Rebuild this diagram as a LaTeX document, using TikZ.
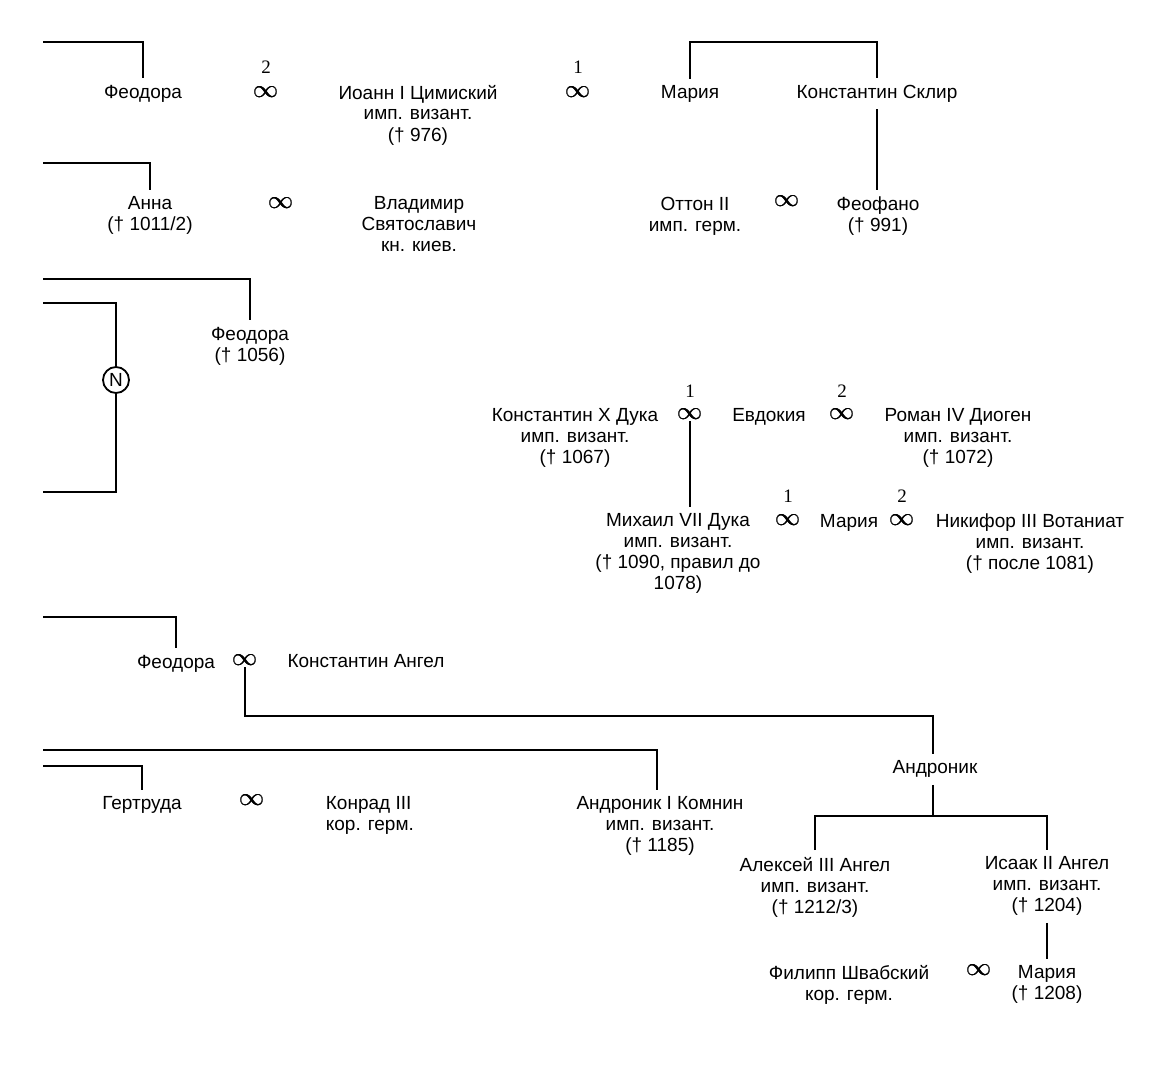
\documentclass[tikz,border=0pt]{standalone}
\usepackage{amsmath}
\usepackage{fontspec}
\setmainfont{Liberation Sans}
\newfontfamily\numfont{Liberation Serif}

\begin{document}
\begin{tikzpicture}[x=1pt,y=-1pt,font=\fontsize{19}{21}\selectfont,line width=1.8pt,
person/.style={align=center,anchor=north,inner xsep=2pt,inner ysep=6pt},
wed/.style={font=\fontsize{25}{25}\selectfont,inner sep=0.5pt},
num/.style={font=\numfont\fontsize{19}{19}\selectfont,inner sep=0.5pt}]
  \useasboundingbox (0,0) rectangle (1168,1086);
  % generation of Tzimiskes and Skleros
  \node[person] (feodoraA) at (143,78) {Феодора};
  \node[num] (numA) at (266,67) {2};
  \node[wed] (mA) at (266,92) {\pmb{$\infty$}};
  \node[person] (tzimiskes) at (418,78) {Иоанн I Цимиский\\имп. визант.\\(† 976)};
  \node[num] (numB) at (578,67) {1};
  \node[wed] (mB) at (578,92) {\pmb{$\infty$}};
  \node[person] (mariaA) at (690,79) {Мария};
  \node[person] (skleros) at (877,78) {Константин Склир};
  \node[person] (anna) at (150,190) {Анна\\(† 1011/2)};
  \node[wed] (mC) at (281,203) {\pmb{$\infty$}};
  \node[person] (vladimir) at (419,190) {Владимир\\Святославич\\кн. киев.};
  \node[person] (otto) at (695,190) {Оттон II\\имп. герм.};
  \node[wed] (mD) at (787,201) {\pmb{$\infty$}};
  \node[person] (theophano) at (878,190) {Феофано\\(† 991)};
  \node[person] (feodoraB) at (250,320) {Феодора\\(† 1056)};
  \node[circle,draw,inner sep=1.5pt,minimum size=26pt] (n) at (116,380) {N};
  % Ducas
  \node[person] (ducas) at (575,402) {Константин X Дука\\имп. визант.\\(† 1067)};
  \node[num] (numE) at (690,391) {1};
  \node[wed] (mE) at (690,414) {\pmb{$\infty$}};
  \node[person] (eudokia) at (769,402) {Евдокия};
  \node[num] (numF) at (842,391) {2};
  \node[wed] (mF) at (842,414) {\pmb{$\infty$}};
  \node[person] (romanus) at (958,402) {Роман IV Диоген\\имп. визант.\\(† 1072)};
  \node[person] (michael) at (678,507) {Михаил VII Дука\\имп. визант.\\(† 1090, правил до\\1078)};
  \node[num] (numG) at (788,496) {1};
  \node[wed] (mG) at (788,520) {\pmb{$\infty$}};
  \node[person] (mariaB) at (849,508) {Мария};
  \node[num] (numH) at (902,496) {2};
  \node[wed] (mH) at (902,520) {\pmb{$\infty$}};
  \node[person] (botaneiates) at (1030,507) {Никифор III Вотаниат\\имп. визант.\\(† после 1081)};
  % Angeloi
  \node[person] (feodoraC) at (176,648) {Феодора};
  \node[wed] (mI) at (245,660) {\pmb{$\infty$}};
  \node[person] (angelos) at (366,648) {Константин Ангел};
  \node[person] (andronikos) at (935,754) {Андроник};
  \node[person] (gertrude) at (142,790) {Гертруда};
  \node[wed] (mJ) at (252,800) {\pmb{$\infty$}};
  \node[person,align=left,anchor=north west] (conrad) at (323,790) {Конрад III\\кор. герм.};
  \node[person] (komnenos) at (660,790) {Андроник I Комнин\\имп. визант.\\(† 1185)};
  \node[person] (alexios) at (815,850) {Алексей III Ангел\\имп. визант.\\(† 1212/3)};
  \node[person] (isaac) at (1047,850) {Исаак II Ангел\\имп. визант.\\(† 1204)};
  \node[person] (philip) at (849,958) {Филипп Швабский\\кор. герм.};
  \node[wed] (mK) at (979,970) {\pmb{$\infty$}};
  \node[person] (mariaC) at (1047,959) {Мария\\(† 1208)};

  % lines coming in from the left margin
  \coordinate (inA) at (43,42);
  \coordinate (inC) at (43,163);
  \coordinate (inE) at (43,279);
  \coordinate (inN) at (43,303);
  \coordinate (outN) at (43,492);
  \coordinate (inI) at (43,617);
  \coordinate (inK) at (43,750);
  \coordinate (inG) at (43,766);
  \draw (inA) -| (feodoraA.north);
  \draw (inC) -| (anna.north);
  \draw (inE) -| (feodoraB.north);
  \draw (inN) -| (n.north);
  \draw (n.south) |- (outN);
  \draw (inI) -| (feodoraC.north);
  \draw (inK) -| ([xshift=-3pt]komnenos.north);
  \draw (inG) -| (gertrude.north);

  % descent
  \coordinate (sibA) at (783,42);
  \draw (mariaA.north) |- (sibA) -| (skleros.north);
  \draw (skleros.south) -- (skleros.south |- theophano.north);
  \draw (mE.south) -- (mE.south |- michael.north);
  \coordinate (jA) at (933,716);
  \draw (mI.south) |- (jA) -- (jA |- andronikos.north);
  \coordinate (jB) at (933,816);
  \draw (jA |- andronikos.south) -- (jB);
  \draw (alexios.north) |- (jB) -| (isaac.north);
  \draw (isaac.south) -- (mariaC.north);
\end{tikzpicture}
\end{document}
